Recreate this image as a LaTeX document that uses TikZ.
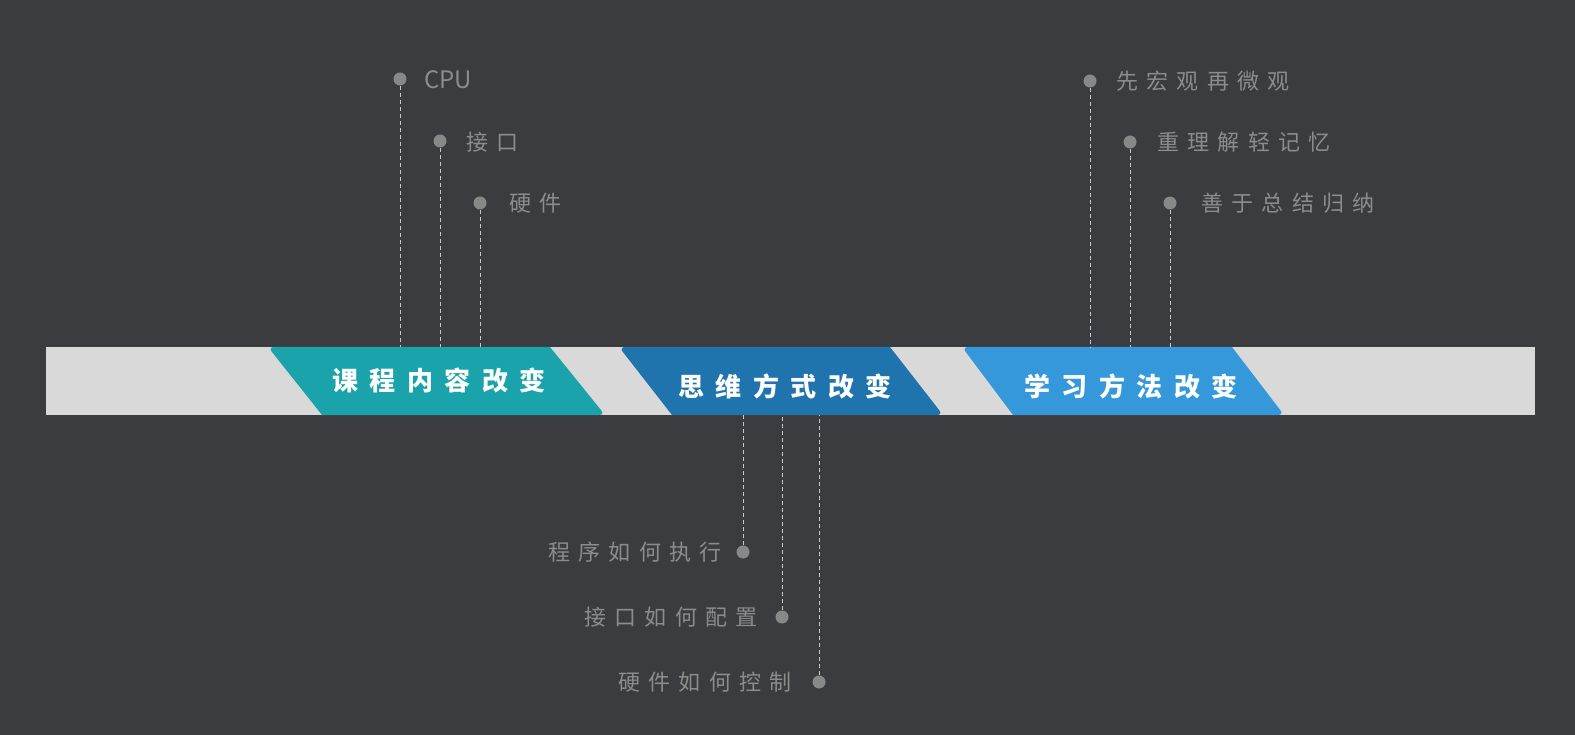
\documentclass[tikz,border=0pt]{standalone}
\usepackage{fontspec}
\newfontfamily\cjk[LetterSpace=38]{Noto Sans CJK SC}
\newfontfamily\cjkbox[LetterSpace=44]{Noto Sans CJK SC}
\newfontfamily\latinlbl{Noto Sans CJK SC}
\definecolor{bgdark}{HTML}{3B3C40}
\definecolor{bargrey}{HTML}{D9D9D9}
\definecolor{labelgrey}{HTML}{8C8C8C}
\definecolor{dotgrey}{HTML}{888888}
\definecolor{guidegrey}{HTML}{C8C8C8}
\definecolor{tagteal}{HTML}{1BA3AC}
\definecolor{tagblue}{HTML}{2074AD}
\definecolor{tagsky}{HTML}{3498DB}
\begin{document}
\begin{tikzpicture}[x=1pt, y=-1pt,
    % 圆点
    dot/.style={circle, fill=dotgrey, inner sep=0pt, minimum size=13pt},
    % 灰色说明文字
    lbl/.style={font=\cjk\fontsize{22}{24}\selectfont, text=labelgrey, inner sep=0pt},
    % 色块上的白字
    tag/.style={font=\cjkbox\bfseries\fontsize{26}{28}\selectfont, text=white, inner sep=0pt},
    % 虚线引线
    guide/.style={guidegrey, line width=0.8pt, dash pattern=on 4pt off 3pt}
]
    % 背景与画布
    \fill[bgdark] (0,0) rectangle (1575,735);
    \useasboundingbox (0,0) rectangle (1575,735);

    % ================== 横条 ==================
    \node[fill=bargrey, minimum width=1489pt, minimum height=68pt, inner sep=0pt,
          anchor=north west] (bar) at (46,347) {};

    % ================== 三个色块 ==================
    \fill[tagteal] (322,415) [rounded corners=6pt] -- (268,347) [sharp corners] -- (550,347)
        [rounded corners=6pt] -- (605,415) [sharp corners] -- cycle;
    \node[tag] (course) at (439,380) {课程内容改变};

    \fill[tagblue] (672,415) [rounded corners=6pt] -- (619,347) [sharp corners] -- (890,347)
        [rounded corners=6pt] -- (943,415) [sharp corners] -- cycle;
    \node[tag] (thinking) at (785,386) {思维方式改变};

    \fill[tagsky] (1013,415) [rounded corners=6pt] -- (962,347) [sharp corners] -- (1232,347)
        [rounded corners=6pt] -- (1284,415) [sharp corners] -- cycle;
    \node[tag] (learning) at (1131,386) {学习方法改变};

    % ================== 上方：课程内容 ==================
    \node[dot] (cpu) at (400,79) {};
    \node[font=\latinlbl\fontsize{24}{26}\selectfont, text=labelgrey, inner sep=0pt,
          anchor=west] (cpu_t) at (424,80) {CPU};
    \node[dot] (iface) at (440,141) {};
    \node[lbl, anchor=west] (iface_t) at (466,142) {接口};
    \node[dot] (hw) at (480,203) {};
    \node[lbl, anchor=west] (hw_t) at (509,203) {硬件};

    % ================== 上方：学习方法 ==================
    \node[dot] (macro) at (1090,81) {};
    \node[lbl, anchor=west] (macro_t) at (1116,81) {先宏观再微观};
    \node[dot] (understand) at (1130,142) {};
    \node[lbl, anchor=west] (understand_t) at (1157,142) {重理解轻记忆};
    \node[dot] (summary) at (1170,203) {};
    \node[lbl, anchor=west] (summary_t) at (1201,203) {善于总结归纳};

    % ================== 下方：思维方式 ==================
    \node[dot] (exec) at (743,552) {};
    \node[lbl, anchor=east] (exec_t) at (722,552) {程序如何执行};
    \node[dot] (config) at (782,617) {};
    \node[lbl, anchor=east] (config_t) at (758,617) {接口如何配置};
    \node[dot] (control) at (819,682) {};
    \node[lbl, anchor=east] (control_t) at (792,682) {硬件如何控制};

    % 引线
    \foreach \d in {cpu, iface, hw, macro, understand, summary}
        \draw[guide] (\d) -- (\d |- bar.north);
    \foreach \d in {exec, config, control}
        \draw[guide] (\d) -- (\d |- bar.south);

\end{tikzpicture}
\end{document}
